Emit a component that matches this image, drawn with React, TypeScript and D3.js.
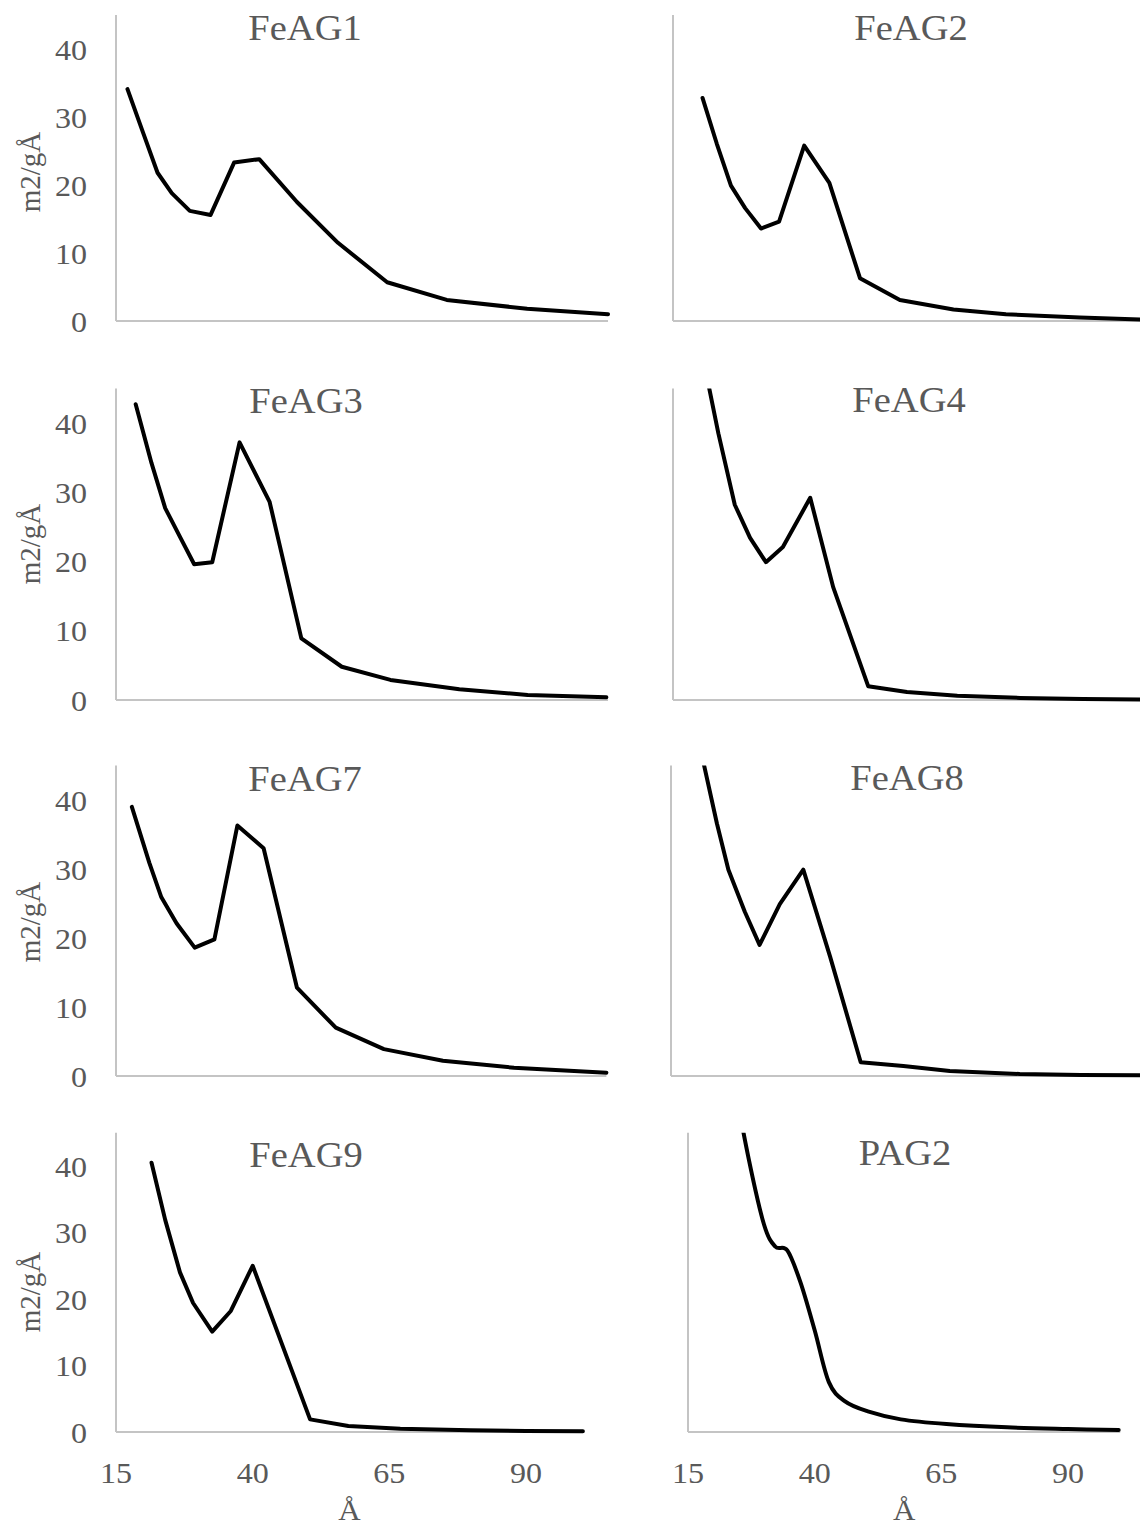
import React from 'react';
import * as d3 from 'd3';

// ---------- data ----------
const xTickValues = [15, 40, 65, 90];
const yTickValues = [0, 10, 20, 30, 40];
const yAxisTitle = 'm2/gÅ';
const xAxisTitle = 'Å';

const feag1X = [17.1, 20.0, 22.6, 25.2, 28.5, 32.3, 36.6, 41.2, 48.1, 55.6, 64.6, 75.5, 90.2, 105.0];
const feag1Y = [34.1, 27.6, 21.8, 18.8, 16.2, 15.6, 23.3, 23.8, 17.5, 11.5, 5.7, 3.1, 1.8, 1.0];

const feag2X = [20.4, 23.0, 25.6, 28.2, 31.1, 34.4, 39.0, 43.6, 49.2, 56.5, 66.3, 75.9, 89.4, 100.9, 105.0];
const feag2Y = [32.8, 26.1, 19.9, 16.6, 13.6, 14.6, 25.8, 20.3, 6.3, 3.1, 1.7, 1.0, 0.5, 0.2, 0.15];

const feag3X = [18.6, 21.5, 24.0, 26.8, 29.3, 32.6, 37.6, 43.1, 48.9, 56.3, 65.2, 77.8, 90.3, 104.7];
const feag3Y = [42.7, 34.2, 27.7, 23.4, 19.6, 19.9, 37.2, 28.6, 8.9, 4.8, 2.9, 1.55, 0.72, 0.39];

const feag4X = [20.6, 23.3, 26.3, 29.1, 32.0, 35.1, 40.1, 44.3, 50.7, 57.8, 67.0, 78.5, 90.0, 104.5];
const feag4Y = [49.0, 38.5, 28.2, 23.4, 19.9, 22.1, 29.2, 16.3, 2.0, 1.16, 0.6, 0.3, 0.15, 0.05];

const feag7X = [17.9, 21.1, 23.3, 26.1, 29.4, 33.0, 37.2, 42.0, 48.1, 55.2, 64.0, 74.8, 87.8, 104.7];
const feag7Y = [39.0, 30.9, 25.9, 22.1, 18.6, 19.8, 36.3, 33.0, 12.8, 7.0, 3.9, 2.2, 1.2, 0.48];

const feag8X = [20.5, 23.4, 25.5, 28.5, 31.2, 34.9, 39.2, 44.1, 49.7, 57.5, 66.0, 78.8, 90.0, 104.5];
const feag8Y = [47.0, 36.6, 29.9, 23.8, 19.0, 24.9, 29.9, 17.3, 2.0, 1.45, 0.72, 0.29, 0.15, 0.08];

const feag9X = [21.5, 24.0, 26.7, 29.1, 32.6, 36.0, 40.0, 50.5, 57.5, 67.0, 79.8, 90.0, 100.4];
const feag9Y = [40.5, 31.9, 24.0, 19.4, 15.1, 18.2, 25.0, 1.9, 0.9, 0.5, 0.25, 0.15, 0.1];

const pag2X = [20.5, 23.5, 27.0, 30.0, 32.2, 34.6, 37.2, 40.0, 42.8, 46.0, 50.5, 57.0, 66.0, 78.0, 90.0, 100.0];
const pag2Y = [68, 55, 41, 31.2, 27.9, 27.3, 22.5, 15.3, 7.5, 4.6, 3.1, 1.9, 1.2, 0.7, 0.45, 0.3];

// ---------- layout ----------
type Panel = {
  name: string;
  xs: number[];
  ys: number[];
  x0: number;
  ppu: number;
  xMax: number;
  base: number;
  yppu: number;
  showY: boolean;
  showX: boolean;
  tx: number;
  ty: number;
  yTitleY: number;
  smooth: boolean;
};

const panels: Panel[] = [
  { name: 'FeAG1', xs: feag1X, ys: feag1Y, x0: 116, ppu: 5.467, xMax: 105, base: 321, yppu: 6.8, showY: true, showX: false, tx: 305, ty: 40, yTitleY: 172, smooth: false },
  { name: 'FeAG2', xs: feag2X, ys: feag2Y, x0: 673, ppu: 5.467, xMax: 106, base: 321, yppu: 6.8, showY: false, showX: false, tx: 911, ty: 40, yTitleY: 0, smooth: false },
  { name: 'FeAG3', xs: feag3X, ys: feag3Y, x0: 116, ppu: 5.467, xMax: 105, base: 700, yppu: 6.925, showY: true, showX: false, tx: 306, ty: 413, yTitleY: 544, smooth: false },
  { name: 'FeAG4', xs: feag4X, ys: feag4Y, x0: 673, ppu: 5.467, xMax: 106, base: 700, yppu: 6.925, showY: false, showX: false, tx: 909, ty: 412, yTitleY: 0, smooth: false },
  { name: 'FeAG7', xs: feag7X, ys: feag7Y, x0: 116, ppu: 5.467, xMax: 104.7, base: 1076, yppu: 6.9, showY: true, showX: false, tx: 305, ty: 791, yTitleY: 922, smooth: false },
  { name: 'FeAG8', xs: feag8X, ys: feag8Y, x0: 671, ppu: 5.467, xMax: 106, base: 1076, yppu: 6.9, showY: false, showX: false, tx: 907, ty: 790, yTitleY: 0, smooth: false },
  { name: 'FeAG9', xs: feag9X, ys: feag9Y, x0: 116, ppu: 5.467, xMax: 100.4, base: 1432, yppu: 6.65, showY: true, showX: true, tx: 306, ty: 1167, yTitleY: 1292, smooth: false },
  { name: 'PAG2', xs: pag2X, ys: pag2Y, x0: 688, ppu: 5.067, xMax: 100.3, base: 1432, yppu: 6.65, showY: false, showX: true, tx: 905, ty: 1165, yTitleY: 0, smooth: true },
];

const W = 1140;
const H = 1528;
const FONT = '"Liberation Serif", "Times New Roman", serif';
const TEXT = '#595959';
const AXIS = '#c4c4c4';
const SX = 1.07; // horizontal stretch of glyphs seen in the reference

function SText({ x, y, anchor, size, children, dy }: { x: number; y: number; anchor: string; size: number; children: React.ReactNode; dy?: string }) {
  return (
    <text
      transform={`translate(${x}, ${y}) scale(${SX}, 1)`}
      dy={dy}
      textAnchor={anchor}
      fontSize={size}
      fill={TEXT}
      fontFamily={FONT}
    >
      {children}
    </text>
  );
}

function PanelView({ p, i }: { p: Panel; i: number }) {
  const x = d3.scaleLinear().domain([15, 90]).range([p.x0, p.x0 + 75 * p.ppu]);
  const y = d3.scaleLinear().domain([0, 40]).range([p.base, p.base - 40 * p.yppu]);
  const top = y(45);
  const pts: [number, number][] = p.xs.map((v, k) => [v, p.ys[k]]);
  const line = d3
    .line<[number, number]>()
    .x((d) => x(d[0]))
    .y((d) => y(d[1]))
    .curve(p.smooth ? d3.curveCardinal.tension(0) : d3.curveLinear);
  const clipId = `clip-${i}`;
  const xEnd = x(p.xMax);
  return (
    <g>
      <defs>
        <clipPath id={clipId}>
          <rect x={p.x0 - 10} y={top} width={W} height={p.base - top + 10} />
        </clipPath>
      </defs>
      <line x1={p.x0} x2={p.x0} y1={top} y2={p.base} stroke={AXIS} strokeWidth={2} />
      <line x1={p.x0} x2={xEnd} y1={p.base} y2={p.base} stroke={AXIS} strokeWidth={2} />
      <path
        d={line(pts) || ''}
        fill="none"
        stroke="#000"
        strokeWidth={4}
        strokeLinejoin="round"
        strokeLinecap="round"
        clipPath={`url(#${clipId})`}
      />
      <SText x={p.tx} y={p.ty} anchor="middle" size={36}>
        {p.name}
      </SText>
      {p.showY &&
        yTickValues.map((t) => (
          <SText key={t} x={p.x0 - 29} y={y(t)} dy="0.35em" anchor="end" size={30}>
            {t}
          </SText>
        ))}
      {p.showY && (
        <text
          transform={`translate(40, ${p.yTitleY}) rotate(-90)`}
          textAnchor="middle"
          fontSize={29}
          fill={TEXT}
          fontFamily={FONT}
        >
          {yAxisTitle}
        </text>
      )}
      {p.showX &&
        xTickValues.map((t) => (
          <SText key={t} x={x(t)} y={1472} dy="0.35em" anchor="middle" size={30}>
            {t}
          </SText>
        ))}
      {p.showX && (
        <SText x={(p.x0 + xEnd) / 2} y={1520} anchor="middle" size={29}>
          {xAxisTitle}
        </SText>
      )}
    </g>
  );
}

export default function App() {
  return (
    <svg
      width={W}
      height={H}
      viewBox={`0 0 ${W} ${H}`}
      style={{ position: 'absolute', left: 0, top: 0, display: 'block', background: '#fff' }}
    >
      <rect x={0} y={0} width={W} height={H} fill="#fff" />
      {panels.map((p, i) => (
        <PanelView key={p.name} p={p} i={i} />
      ))}
    </svg>
  );
}
